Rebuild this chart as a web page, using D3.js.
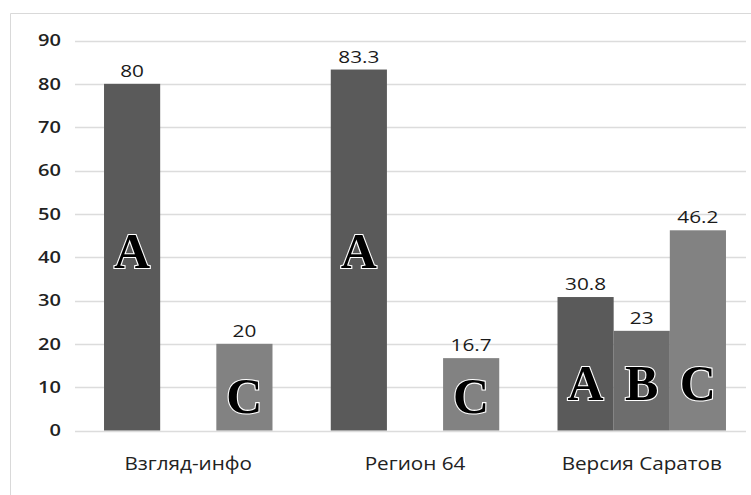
<!DOCTYPE html>
<html><head><meta charset="utf-8">
<script src="https://cdn.jsdelivr.net/npm/d3@7"></script>
<style>body{margin:0;background:#fff}svg{display:block}</style>
</head><body><div id="c"></div>
<script>
const categories = ["Взгляд-инфо", "Регион 64", "Версия Саратов"];
const seriesNames = ["A", "B", "C"];
const valuesA = [80, 83.3, 30.8];
const valuesB = [null, null, 23];
const valuesC = [20, 16.7, 46.2];
const yTicks = [0, 10, 20, 30, 40, 50, 60, 70, 80, 90];
const colors = {A: "#5a5a5a", B: "#6d6d6d", C: "#828282"};

const W = 751, H = 495;
const svg = d3.select("#c").append("svg").attr("width", W).attr("height", H);

// frame
svg.append("path").attr("d", `M10.5,${H} V13.5 H${W}`).attr("fill","none").attr("stroke","#d9d9d9").attr("stroke-width",1);

const x0 = d3.scaleBand().domain(categories).range([75, 755]).paddingInner(0.257).paddingOuter(0.128);
const x1 = d3.scaleBand().domain(seriesNames).range([0, x0.bandwidth()]);
const y = d3.scaleLinear().domain([0, 90]).range([430.5, 40.5]);

// gridlines
svg.append("g").selectAll("line").data(yTicks).join("line")
  .attr("x1", 75).attr("x2", 746)
  .attr("y1", d => Math.round(y(d)) + 0.5).attr("y2", d => Math.round(y(d)) + 0.5)
  .attr("stroke", "#dcdcdc").attr("stroke-width", 1.5);

const font = "'Open Sans', sans-serif";

// y axis labels
svg.append("g").selectAll("text").data(yTicks).join("text")
  .attr("transform", d => `translate(61,${y(d)}) scale(1.18,1)`)
  .attr("dy", "0.35em").attr("text-anchor", "end")
  .attr("font-family", font).attr("font-size", 17).attr("font-weight", 600).attr("fill", "#222")
  .text(d => d);

const rows = [];
categories.forEach((c, i) => {
  [["A", valuesA], ["B", valuesB], ["C", valuesC]].forEach(([s, arr]) => {
    if (arr[i] != null) rows.push({cat: c, ci: i, s, v: arr[i]});
  });
});

const cx = d => x0(d.cat) + x1(d.s) + x1.bandwidth()/2;

const g = svg.append("g");
g.selectAll("rect").data(rows).join("rect")
  .attr("x", d => x0(d.cat) + x1(d.s))
  .attr("width", x1.bandwidth())
  .attr("y", d => y(d.v))
  .attr("height", d => y(0) - y(d.v))
  .attr("fill", d => colors[d.s]);

// value labels
g.selectAll("text.val").data(rows).join("text").attr("class","val")
  .attr("transform", d => `translate(${cx(d)},${y(d.v) - 7}) scale(1.3,1)`)
  .attr("text-anchor", "middle")
  .attr("font-family", font).attr("font-size", 16).attr("font-weight", 500).attr("fill", "#1a1a1a")
  .text(d => d.v);

// letter annotations
const letterCenter = d => d.v > 60 ? y(41.5) : (d.ci === 2 ? y(11) : y(8));
g.selectAll("text.let").data(rows).join("text").attr("class","let")
  .attr("x", d => cx(d))
  .attr("y", d => letterCenter(d))
  .attr("dy", "0.35em")
  .attr("text-anchor", "middle")
  .attr("font-family", "'Liberation Serif', 'DejaVu Serif', serif")
  .attr("font-weight", "bold").attr("font-size", 50)
  .attr("fill", "#000").attr("stroke", "#fff").attr("stroke-width", 2.2)
  .attr("paint-order", "stroke")
  .text(d => d.s);

// category labels
svg.append("g").selectAll("text").data(categories).join("text")
  .attr("transform", d => `translate(${x0(d) + x0.bandwidth()/2},470) scale(1.15,1)`)
  .attr("text-anchor", "middle")
  .attr("font-family", font).attr("font-size", 18).attr("font-weight", 500).attr("fill", "#222")
  .text(d => d);
</script></body></html>
